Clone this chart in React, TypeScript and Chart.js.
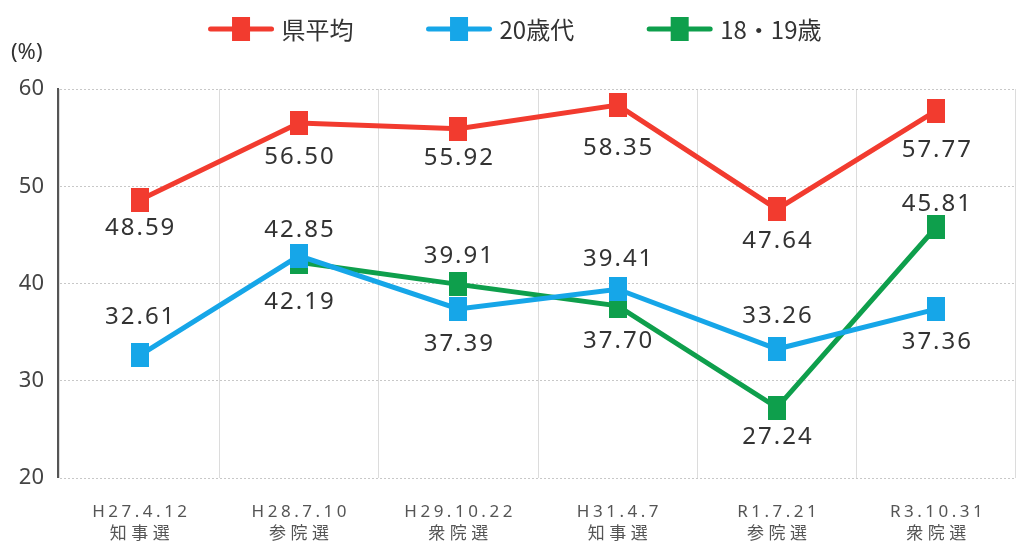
import React, { useEffect, useRef } from 'react';
import { Chart, registerables } from 'chart.js';

Chart.register(...registerables);

// ---- data ----
const categories = ['H27.4.12', 'H28.7.10', 'H29.10.22', 'H31.4.7', 'R1.7.21', 'R3.10.31'];
const electionTypes = ['知事選', '参院選', '衆院選', '知事選', '参院選', '衆院選'];
const seriesNames = ['県平均', '20歳代', '18・19歳'];
const prefAverage = [48.59, 56.5, 55.92, 58.35, 47.64, 57.77];
const age20s = [32.61, 42.85, 37.39, 39.41, 33.26, 37.36];
const age18to19: (number | null)[] = [null, 42.19, 39.91, 37.7, 27.24, 45.81];
const yMin = 20;
const yMax = 60;
const yStep = 10;
const unitLabel = '(%)';

// ---- styles ----
const colors = ['#f23b2f', '#16a6e8', '#0e9f4c'];
// vertical label offsets (px) relative to each point: + below, - above
const labelOffsets = [
  [28, 34, 29, 43, 32, 39],
  [-38, -26, 35, -30, -33, 33],
  [0, 40, -28, 35, 30, -23],
];

function makeRect(color: string, w: number, h: number) {
  const c = document.createElement('canvas');
  c.width = w;
  c.height = h;
  const x = c.getContext('2d')!;
  x.fillStyle = color;
  x.fillRect(0, 0, w, h);
  return c;
}

const overlayPlugin = {
  id: 'overlay',
  beforeDatasetsDraw(chart: any) {
    const { ctx, chartArea } = chart;
    ctx.save();
    ctx.strokeStyle = '#555';
    ctx.lineWidth = 2;
    ctx.beginPath();
    ctx.moveTo(chartArea.left - 2, chartArea.top - 1);
    ctx.lineTo(chartArea.left - 2, chartArea.bottom);
    ctx.stroke();
    ctx.restore();
  },
  afterDatasetsDraw(chart: any) {
    const { ctx } = chart;
    ctx.save();
    ctx.font = '24px "Noto Sans", "Noto Sans CJK JP", sans-serif';
    ctx.fillStyle = '#333';
    ctx.textAlign = 'center';
    ctx.textBaseline = 'middle';
    (ctx as any).letterSpacing = '2px';
    chart.data.datasets.forEach((ds: any, di: number) => {
      const meta = chart.getDatasetMeta(di);
      meta.data.forEach((pt: any, i: number) => {
        const v = ds.data[i];
        if (v === null || v === undefined) return;
        ctx.fillText(v.toFixed(2), pt.x + 1, pt.y + labelOffsets[di][i]);
      });
    });
    ctx.restore();
  },
  afterDraw(chart: any) {
    const { ctx, scales } = chart;
    const xs = scales.x;
    ctx.save();
    // x labels
    ctx.fillStyle = '#555';
    ctx.textAlign = 'center';
    ctx.textBaseline = 'middle';
    categories.forEach((c, i) => {
      const x = xs.getPixelForValue(i);
      ctx.font = '17px "Noto Sans", "Noto Sans CJK JP", sans-serif';
      (ctx as any).letterSpacing = '3.5px';
      ctx.fillText(c, x + 1.75, 512);
      ctx.font = '17px "Noto Sans CJK JP", sans-serif';
      (ctx as any).letterSpacing = '4.5px';
      ctx.fillText(electionTypes[i], x + 2.25, 533);
    });
    (ctx as any).letterSpacing = '0px';
    // unit
    ctx.fillStyle = '#333';
    ctx.textAlign = 'left';
    ctx.font = '22px "Noto Sans", sans-serif';
    ctx.fillText(unitLabel, 11, 53);
    // legend
    const lineW = 65;
    const gap = 8;
    const itemGap = 73;
    ctx.font = '24px "Noto Sans CJK JP", sans-serif';
    const widths = seriesNames.map((n) => ctx.measureText(n).width);
    const total = widths.reduce((a, b) => a + b, 0) + (lineW + gap) * 3 + itemGap * 2;
    let x = chart.width / 2 - total / 2;
    const ly = 29;
    seriesNames.forEach((n, i) => {
      ctx.strokeStyle = colors[i];
      ctx.lineWidth = 5;
      ctx.lineCap = 'round';
      ctx.beginPath();
      ctx.moveTo(x + 2, ly);
      ctx.lineTo(x + lineW - 2, ly);
      ctx.stroke();
      ctx.fillStyle = colors[i];
      ctx.fillRect(x + lineW / 2 - 9, ly - 12, 18, 24);
      ctx.fillStyle = '#333';
      ctx.fillText(n, x + lineW + gap, ly + 1);
      x += lineW + gap + widths[i] + itemGap;
    });
    ctx.restore();
  },
};

export default function App() {
  const ref = useRef<HTMLCanvasElement>(null);
  useEffect(() => {
    if (!ref.current) return;
    const series = [prefAverage, age20s, age18to19];
    const chart = new Chart(ref.current, {
      type: 'line',
      data: {
        labels: categories,
        datasets: series.map((d, i) => ({
          label: seriesNames[i],
          data: d,
          borderColor: colors[i],
          backgroundColor: colors[i],
          borderWidth: 5,
          tension: 0,
          pointStyle: makeRect(colors[i], 18, 24) as any,
          pointRadius: 9,
          pointHoverRadius: 9,
          spanGaps: false,
          fill: false,
          clip: false as any,
        })),
      },
      options: {
        animation: false,
        responsive: false,
        layout: { padding: { top: 89, right: 4, left: 0, bottom: 0 } },
        plugins: {
          legend: { display: false },
          tooltip: { enabled: false },
        },
        scales: {
          x: {
            type: 'category',
            offset: true,
            grid: { display: true, offset: true, color: '#dcdcdc', lineWidth: 1, drawTicks: false },
            border: { display: false },
            ticks: { display: false },
            afterFit: (s: any) => {
              s.height = 65;
            },
          },
          y: {
            min: yMin,
            max: yMax,
            ticks: {
              stepSize: yStep,
              padding: 16,
              color: '#444',
              font: { family: '"Noto Sans", sans-serif', size: 22 },
            },
            grid: { color: '#c8c8c8', lineWidth: 1, drawTicks: false },
            border: { display: false, dash: [2, 2] },
            afterFit: (s: any) => {
              s.width = 60;
            },
          },
        },
      },
      plugins: [overlayPlugin],
    });
    return () => chart.destroy();
  }, []);
  return (
    <div style={{ position: 'fixed', left: 0, top: 0, width: 1018, height: 543, overflow: 'hidden', background: '#fff' }}>
      <canvas ref={ref} width={1030} height={543} style={{ display: 'block' }} />
    </div>
  );
}
